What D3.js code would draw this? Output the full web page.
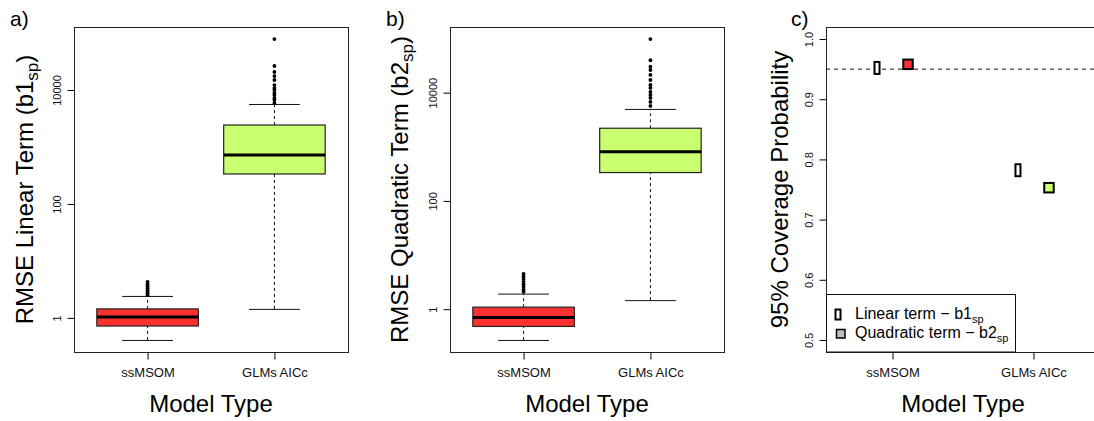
<!DOCTYPE html>
<html>
<head>
<meta charset="utf-8">
<script src="https://cdn.jsdelivr.net/npm/d3@7"></script>
<style>
  body { margin: 0; background: #fff; }
  svg { display: block; font-family: "Liberation Sans", Arial, sans-serif; }
</style>
</head>
<body>
<svg id="fig" width="1094" height="421"></svg>
<script>
// data ------------------

const categories = ["ssMSOM", "GLMs AICc"]
const boxColours = ["#ff3030", "#caff70"]

// [lower whisker, q1, median, q3, upper whisker]
const linearStats = [[0.41, 0.72, 1.04, 1.44, 2.43], [1.44, 336, 725, 2430, 5690]]
const linearOutliers = [
    [2.5, 2.7, 2.9, 3.1, 3.3, 3.6, 3.9, 4.3],
    [5910, 6680, 7240, 8160, 8860, 10000, 10800, 12200, 15000, 17600, 20700, 26400, 78500]
]
const quadraticStats = [[0.27, 0.48, 0.70, 1.09, 1.94], [1.47, 334, 805, 2200, 5000]]
const quadraticOutliers = [
    [2.1, 2.3, 2.6, 2.9, 3.2, 3.6, 4.0, 4.48],
    [5690, 6730, 7980, 9070, 10300, 12200, 13900, 17100, 21200, 26200, 30200, 39600, 97700]
]
const logTicks = [1, 100, 10000]

const coverageLinear = [0.952, 0.782]
const coverageQuadratic = [0.958, 0.753]
const coverageTicks = [0.5, 0.6, 0.7, 0.8, 0.9, 1.0]
const nominalCoverage = 0.95

// layout ------------------

const plotTop = 27, plotBottom = 352
const svg = d3.select('#fig')

function frame(x0, x1) {
    svg.append('rect')
        .attr('x', x0 + 0.5).attr('y', plotTop + 0.5)
        .attr('width', x1 - x0).attr('height', plotBottom - plotTop)
        .attr('fill', 'none').attr('stroke', '#222')
}

function xAxisAndTitles(x0, x1, xScale, label, yTitle) {
    // category ticks + labels
    const xAxis = d3.axisBottom(xScale)
        .tickValues([1, 2])
        .tickFormat(d => categories[d - 1])
        .tickSize(7)
        .tickSizeOuter(0)
        .tickPadding(8)
    const g = svg.append('g')
        .attr('transform', 'translate(0,' + (plotBottom + 0.5) + ')')
        .call(xAxis)
    g.select('.domain').remove()
    g.selectAll('text').attr('font-size', 13).attr('fill', '#111')
        .attr('font-family', '"Liberation Sans", Arial, sans-serif')

    svg.append('text')
        .attr('x', (x0 + x1) / 2).attr('y', 412)
        .attr('text-anchor', 'middle')
        .attr('font-size', 24)
        .text('Model Type')

    // rotated y title with subscript
    const t = svg.append('text')
        .attr('transform', 'translate(' + (x0 - yTitle.offset) + ',' + (plotTop + plotBottom) / 2 + ') rotate(-90)')
        .attr('text-anchor', 'middle')
        .attr('font-size', 24)
    t.append('tspan').text(yTitle.main)
    if (yTitle.sub) {
        t.append('tspan').attr('font-size', 17).attr('dy', 5).text(yTitle.sub)
        t.append('tspan').attr('dy', -5).text(yTitle.end)
    }

    svg.append('text')
        .attr('x', label.x).attr('y', 26)
        .attr('font-size', 21)
        .text(label.text)
}

function yAxis(x0, yScale, ticks, fmt) {
    const axis = d3.axisLeft(yScale)
        .tickValues(ticks)
        .tickFormat(fmt)
        .tickSize(7)
        .tickSizeOuter(0)
    const g = svg.append('g')
        .attr('transform', 'translate(' + (x0 + 0.5) + ',0)')
        .call(axis)
    g.select('.domain').remove()
    g.selectAll('text')
        .attr('font-size', 11)
        .attr('fill', '#111')
        .attr('font-family', '"Liberation Sans", Arial, sans-serif')
        .attr('text-anchor', 'middle')
        .attr('dy', 0)
        .attr('x', 0)
        .attr('y', 0)
        .attr('transform', d => 'translate(-14,' + (yScale(d) + 0.5) + ') rotate(-90)')
    g.selectAll('.tick').attr('transform', null)
    g.selectAll('.tick line')
        .attr('y1', d => yScale(d) + 0.5).attr('y2', d => yScale(d) + 0.5)
}

// R style log range: data range widened by 4% in log space
function logDomain(stats, outliers) {
    const all = stats.flat().concat(outliers.flat())
    const lo = Math.log10(d3.min(all)), hi = Math.log10(d3.max(all))
    const pad = (hi - lo) * 0.04
    return [Math.pow(10, lo - pad), Math.pow(10, hi + pad)]
}

function boxPanel(x0, x1, stats, outliers, label, yTitle) {
    const xScale = d3.scaleLinear().domain([0.42, 2.58]).range([x0, x1])
    const yScale = d3.scaleLog().domain(logDomain(stats, outliers)).range([plotBottom, plotTop])
    const boxW = xScale(1.4) - xScale(1)

    const boxes = svg.append('g').selectAll('g.box')
        .data(stats)
        .join('g')
        .attr('class', 'box')

    // whiskers (dashed)
    boxes.append('line')
        .attr('x1', (d, i) => xScale(i + 1)).attr('x2', (d, i) => xScale(i + 1))
        .attr('y1', d => yScale(d[0])).attr('y2', d => yScale(d[1]))
        .attr('stroke', '#111').attr('stroke-dasharray', '3,3')
    boxes.append('line')
        .attr('x1', (d, i) => xScale(i + 1)).attr('x2', (d, i) => xScale(i + 1))
        .attr('y1', d => yScale(d[3])).attr('y2', d => yScale(d[4]))
        .attr('stroke', '#111').attr('stroke-dasharray', '3,3')
    // staples
    ;[0, 4].forEach(k => {
        boxes.append('line')
            .attr('x1', (d, i) => xScale(i + 1) - boxW / 2)
            .attr('x2', (d, i) => xScale(i + 1) + boxW / 2)
            .attr('y1', d => yScale(d[k]) + 0.5).attr('y2', d => yScale(d[k]) + 0.5)
            .attr('stroke', '#111')
    })
    // box
    boxes.append('rect')
        .attr('x', (d, i) => xScale(i + 1) - boxW)
        .attr('width', boxW * 2)
        .attr('y', d => yScale(d[3]))
        .attr('height', d => yScale(d[1]) - yScale(d[3]))
        .attr('fill', (d, i) => boxColours[i])
        .attr('stroke', '#222').attr('stroke-width', 1.2)
    // median
    boxes.append('line')
        .attr('x1', (d, i) => xScale(i + 1) - boxW)
        .attr('x2', (d, i) => xScale(i + 1) + boxW)
        .attr('y1', d => yScale(d[2])).attr('y2', d => yScale(d[2]))
        .attr('stroke', '#000').attr('stroke-width', 3)

    // outliers
    svg.append('g').selectAll('g')
        .data(outliers)
        .join('g')
        .selectAll('circle')
        .data((d, i) => d.map(v => ({v, i})))
        .join('circle')
        .attr('cx', d => xScale(d.i + 1))
        .attr('cy', d => yScale(d.v))
        .attr('r', 1.9)
        .attr('fill', '#000')

    yAxis(x0, yScale, logTicks, d3.format('d'))
    frame(x0, x1)
    xAxisAndTitles(x0, x1, xScale, label, yTitle)
}

boxPanel(74, 348, linearStats, linearOutliers, {x: 10, text: 'a)'},
    {offset: 41, main: 'RMSE Linear Term (b1', sub: 'sp', end: ')'})
boxPanel(450, 724, quadraticStats, quadraticOutliers, {x: 386, text: 'b)'},
    {offset: 42, main: 'RMSE Quadratic Term (b2', sub: 'sp', end: ')'})

// panel c: coverage ------------------

const cx0 = 826, cx1 = 1100
const cxScale = d3.scaleLinear().domain([0.528, 2.472]).range([cx0, cx1])
const cyScale = d3.scaleLinear().domain([0.48, 1.02]).range([plotBottom, plotTop])
const offset = 0.11

svg.append('line')
    .attr('x1', cx0).attr('x2', cx1)
    .attr('y1', cyScale(nominalCoverage)).attr('y2', cyScale(nominalCoverage))
    .attr('stroke', '#111').attr('stroke-dasharray', '4,4')

svg.append('g').selectAll('rect')
    .data(coverageLinear)
    .join('rect')
    .attr('x', (d, i) => cxScale(i + 1 - offset) - 2.5)
    .attr('y', d => cyScale(d) - 6)
    .attr('width', 5).attr('height', 12)
    .attr('fill', '#fff').attr('stroke', '#000').attr('stroke-width', 2)

svg.append('g').selectAll('rect')
    .data(coverageQuadratic)
    .join('rect')
    .attr('x', (d, i) => cxScale(i + 1 + offset) - 4.75)
    .attr('y', d => cyScale(d) - 4.75)
    .attr('width', 9.5).attr('height', 9.5)
    .attr('fill', (d, i) => boxColours[i]).attr('stroke', '#000').attr('stroke-width', 2)

yAxis(cx0, cyScale, coverageTicks, d3.format('.1f'))
frame(cx0, cx1)

// legend
const lg = svg.append('g')
lg.append('rect')
    .attr('x', cx0 + 0.5).attr('y', 294.5)
    .attr('width', 1015 - cx0).attr('height', plotBottom - 294.5)
    .attr('fill', '#fff').attr('stroke', '#111')
lg.append('rect')
    .attr('x', 835.5).attr('y', 309.5).attr('width', 5).attr('height', 10)
    .attr('fill', '#fff').attr('stroke', '#000').attr('stroke-width', 2)
lg.append('rect')
    .attr('x', 836.5).attr('y', 329.5).attr('width', 8.5).attr('height', 8.5)
    .attr('fill', '#bebebe').attr('stroke', '#000').attr('stroke-width', 1.5)
const legendRows = [['Linear term \u2212 b1', 'sp'], ['Quadratic term \u2212 b2', 'sp']]
legendRows.forEach((r, i) => {
    const t = lg.append('text')
        .attr('x', 855).attr('y', 318.5 + i * 19.5)
        .attr('font-size', 16)
    t.append('tspan').text(r[0])
    t.append('tspan').attr('font-size', 11).attr('dy', 4).text(r[1])
})

xAxisAndTitles(cx0, cx1, cxScale, {x: 791, text: 'c)'},
    {offset: 38, main: '95% Coverage Probability'})
</script>
</body>
</html>
